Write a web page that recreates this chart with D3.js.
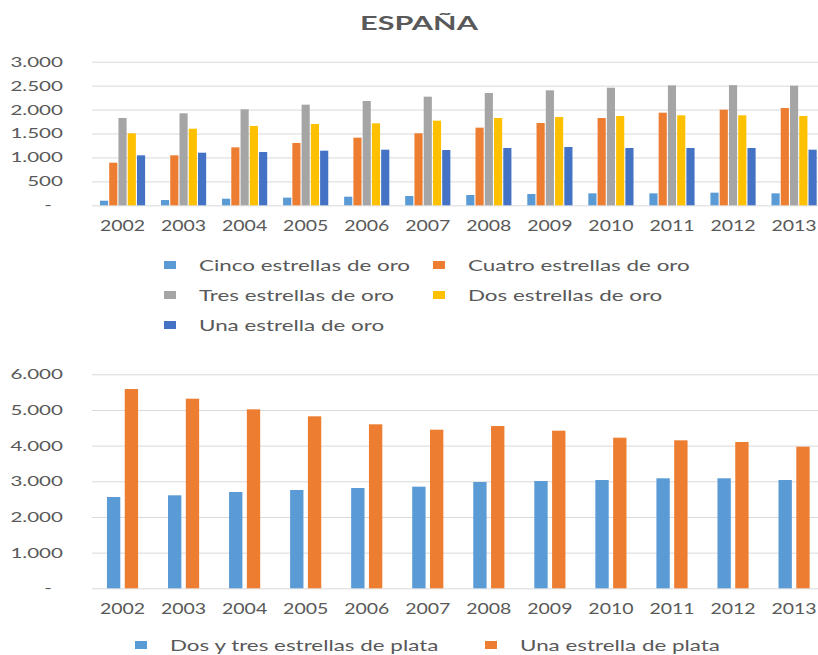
<!DOCTYPE html>
<html><head><meta charset="utf-8">
<script src="https://cdn.jsdelivr.net/npm/d3@7"></script>
<style>body{margin:0;background:#fff}svg{display:block}text{font-family:Lato,"Open Sans",sans-serif;fill:#595959}</style>
</head><body>
<svg id="c" width="818" height="655"></svg>
<script>
const title = "ESPAÑA";
const years = ["2002","2003","2004","2005","2006","2007","2008","2009","2010","2011","2012","2013"];
const goldNames = ["Cinco estrellas de oro","Cuatro estrellas de oro","Tres estrellas de oro","Dos estrellas de oro","Una estrella de oro"];
const cinco  = [96,110,138,160,180,194,215,236,250,250,264,250];
const cuatro = [890,1044,1211,1302,1413,1504,1622,1720,1824,1935,1998,2033];
const tres   = [1824,1922,2005,2102,2179,2269,2346,2402,2457,2505,2510,2499];
const dos    = [1504,1600,1657,1699,1713,1768,1824,1845,1866,1880,1880,1866];
const una    = [1044,1099,1113,1141,1162,1155,1197,1218,1197,1197,1197,1162];
const silverNames = ["Dos y tres estrellas de plata","Una estrella de plata"];
const dosTresPlata = [2560,2607,2700,2756,2812,2849,2980,3008,3036,3084,3084,3036];
const unaPlata     = [5587,5316,5018,4822,4598,4447,4550,4419,4223,4149,4102,3970];
const goldTicks = [0,500,1000,1500,2000,2500,3000];
const silverTicks = [0,1000,2000,3000,4000,5000,6000];

const goldColors = ["#5B9BD5","#ED7D31","#A5A5A5","#FFC000","#4472C4"];
const silverColors = ["#5B9BD5","#ED7D31"];
const goldSeries = [cinco,cuatro,tres,dos,una];
const silverSeries = [dosTresPlata,unaPlata];

const svg = d3.select("#c");
const loc = d3.formatLocale({decimal:",",thousands:".",grouping:[3],currency:["","€"]});
const fmt = v => v === 0 ? "-" : loc.format(",")(v);

function stretch(sel, sx){
  sel.each(function(){
    const t = d3.select(this);
    const x = +t.attr("x") || 0, y = +t.attr("y") || 0;
    t.attr("x",0).attr("y",0).attr("transform",`translate(${x},${y}) scale(${sx},1)`);
  });
}

// title
svg.append("text").attr("x",419).attr("y",30).attr("text-anchor","middle")
  .attr("font-size",18).attr("font-weight","bold").text(title)
  .call(stretch,1.7);

function chart(cfg){
  const x0 = d3.scaleBand().domain(years).range([92,824.6])
    .paddingInner(cfg.pIn).paddingOuter(cfg.pIn/2);
  const x1 = d3.scaleBand().domain(d3.range(cfg.series.length)).range([0,x0.bandwidth()]).paddingInner(cfg.sub);
  const y = d3.scaleLinear().domain([0,cfg.max]).range([cfg.y0,cfg.y1]);
  const g = svg.append("g");
  // gridlines
  g.append("g").selectAll("line").data(cfg.ticks).join("line")
    .attr("x1",92).attr("x2",818).attr("y1",d=>y(d)+0.5).attr("y2",d=>y(d)+0.5)
    .attr("stroke","#D9D9D9").attr("stroke-width",1);
  // bars
  cfg.series.forEach((s,i)=>{
    g.append("g").selectAll("rect").data(s).join("rect")
      .attr("x",(d,j)=>x0(years[j])+x1(i)).attr("width",x1.bandwidth())
      .attr("y",d=>y(d)).attr("height",d=>y(0)-y(d)).attr("fill",cfg.colors[i]);
  });
  // y axis
  const ya = g.append("g").attr("transform","translate(92,0)")
    .call(d3.axisLeft(y).tickValues(cfg.ticks).tickFormat(fmt).tickSize(0).tickPadding(29));
  ya.select(".domain").remove();
  ya.selectAll("text").attr("font-size",14).attr("font-family",null).attr("fill","#595959")
    .filter(d=>d===0).attr("x",-40);
  ya.selectAll("text").call(stretch,1.47);
  // x axis
  const xa = g.append("g").attr("transform",`translate(0,${cfg.y0})`)
    .call(d3.axisBottom(x0).tickSize(0).tickPadding(15));
  xa.select(".domain").remove();
  xa.selectAll("text").attr("font-size",15).attr("font-family",null).attr("fill","#595959")
    .call(stretch,1.3);
  // legend
  cfg.legend.forEach((it,i)=>{
    const lg = g.append("g");
    lg.append("rect").attr("x",it.x).attr("y",it.y-4).attr("width",12).attr("height",8).attr("fill",cfg.colors[i]);
    lg.append("text").attr("x",it.x+35).attr("y",it.y).attr("dy","0.35em").attr("font-size",16)
      .text(cfg.names[i]).call(stretch,1.4);
  });
}

chart({series:goldSeries,colors:goldColors,names:goldNames,max:3000,ticks:goldTicks,
  y0:205.3,y1:61.7,pIn:0.26,sub:0.12,
  legend:[{x:164,y:265},{x:433,y:265},{x:164,y:295},{x:433,y:295},{x:164,y:325}]});
chart({series:silverSeries,colors:silverColors,names:silverNames,max:6000,ticks:silverTicks,
  y0:588.3,y1:374.3,pIn:0.49,sub:0.25,
  legend:[{x:135,y:645},{x:485,y:645}]});
</script>
</body></html>
